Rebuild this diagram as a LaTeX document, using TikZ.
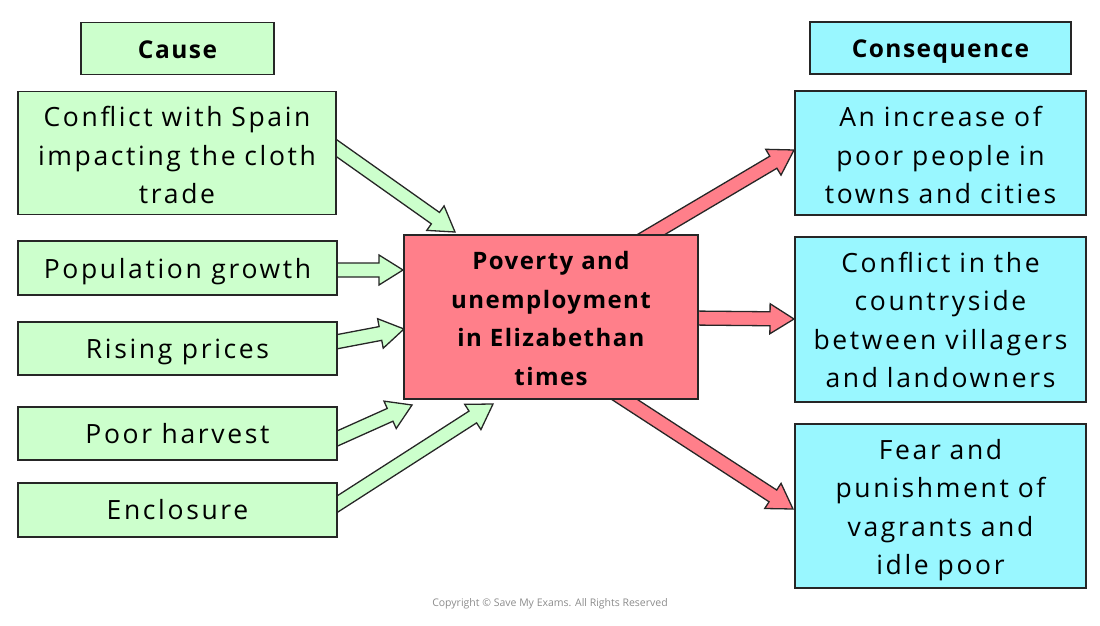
\documentclass[tikz,border=0pt]{standalone}
\usepackage{fontspec}
\setmainfont[LetterSpace=10, BoldFeatures={LetterSpace=6}]{Open Sans}
\newfontfamily\copyfont{Open Sans}
\usetikzlibrary{calc}
\definecolor{cgreen}{RGB}{204,255,204}
\definecolor{cred}{RGB}{255,127,138}
\definecolor{ccyan}{RGB}{153,247,255}
\newcommand\shaftw{7pt}
\newcommand\headw{15pt}
\newcommand\headl{24pt}
\newcommand\fatarrow[3]{%
  \coordinate (tmpB) at ($(#2)!\headl!(#1)$);
  \filldraw[fill=#3, draw=black!85, line width=1.3pt, line join=miter]
    ($(#1)!\shaftw!90:(#2)$) -- ($(tmpB)!\shaftw!-90:(#1)$) -- ($(tmpB)!\headw!-90:(#1)$)
    -- (#2) -- ($(tmpB)!\headw!90:(#1)$) -- ($(tmpB)!\shaftw!90:(#1)$)
    -- ($(#1)!\shaftw!-90:(#2)$) -- cycle;}
\newcommand\topstrut[1]{\rule{0pt}{#1}}
\tikzset{
  box/.style={draw=black!85, line width=1.3pt, inner sep=0pt, align=center,
    font=\fontsize{26.5}{38.5}\selectfont},
  gbox/.style={box, fill=cgreen},
  cbox/.style={box, fill=ccyan},
  rbox/.style={box, fill=cred, font=\fontsize{24}{38.5}\selectfont\bfseries},
  head/.style={font=\fontsize{24.5}{30}\selectfont\bfseries, text height=21pt, text depth=1pt}
}
\begin{document}
\begin{tikzpicture}[x=1pt,y=-1pt]
\useasboundingbox (0,0) rectangle (1100,626);
% arrow endpoints
\coordinate (a1s) at (325,140);
\coordinate (a1e) at (455,232);
\coordinate (a2s) at (325,270);
\coordinate (a2e) at (403,270);
\coordinate (a3s) at (325,344);
\coordinate (a3e) at (404,329);
\coordinate (a4s) at (325,444);
\coordinate (a4e) at (412,405);
\coordinate (a5s) at (325,512);
\coordinate (a5e) at (493,404);
\coordinate (b1s) at (625,250);
\coordinate (b1e) at (794,150);
\coordinate (b2s) at (690,318);
\coordinate (b2e) at (794,319);
\coordinate (b3s) at (610,390);
\coordinate (b3e) at (793,509);
\fatarrow{a1s}{a1e}{cgreen}
\fatarrow{a2s}{a2e}{cgreen}
\fatarrow{a3s}{a3e}{cgreen}
\fatarrow{a4s}{a4e}{cgreen}
\fatarrow{a5s}{a5e}{cgreen}
\fatarrow{b1s}{b1e}{cred}
\fatarrow{b2s}{b2e}{cred}
\fatarrow{b3s}{b3e}{cred}
% cause column
\node[gbox, head, minimum width=193, minimum height=52] (cause) at (177.5,48.5) {Cause};
\node[gbox, minimum width=318, minimum height=123, text width=314] (c1) at (177,153)
  {\topstrut{25pt}Conflict with Spain\\impacting the cloth\\trade};
\node[gbox, minimum width=319, minimum height=54, text depth=0pt] (c2) at (177.5,268) {Population growth};
\node[gbox, minimum width=319, minimum height=53, text depth=0pt] (c3) at (177.5,348.5) {Rising prices};
\node[gbox, minimum width=319, minimum height=53] (c4) at (177.5,433.5) {Poor harvest};
\node[gbox, minimum width=319, minimum height=54] (c5) at (177.5,510) {Enclosure};
% centre
\node[rbox, minimum width=294, minimum height=164, text width=290] (mid) at (551,317)
  {\topstrut{21pt}Poverty and\\unemployment\\in Elizabethan\\times};
% consequence column
\node[cbox, head, minimum width=261, minimum height=52] (cons) at (940.5,48) {Consequence};
\node[cbox, minimum width=291, minimum height=124, text width=287] (r1) at (940.5,153)
  {\topstrut{25pt}An increase of\\poor people in\\towns and cities};
\node[cbox, minimum width=291, minimum height=165, text width=287] (r2) at (940.5,319.5)
  {\topstrut{21pt}Conflict in the\\countryside\\between villagers\\and landowners};
\node[cbox, minimum width=291, minimum height=164, text width=287] (r3) at (940.5,506)
  {\topstrut{28pt}Fear and\\punishment of\\vagrants and\\idle poor};
\node[font=\copyfont\fontsize{10.5}{12}\selectfont, text=black!45] (copy) at (550,604)
  {Copyright © Save My Exams. All Rights Reserved};
\end{tikzpicture}
\end{document}
